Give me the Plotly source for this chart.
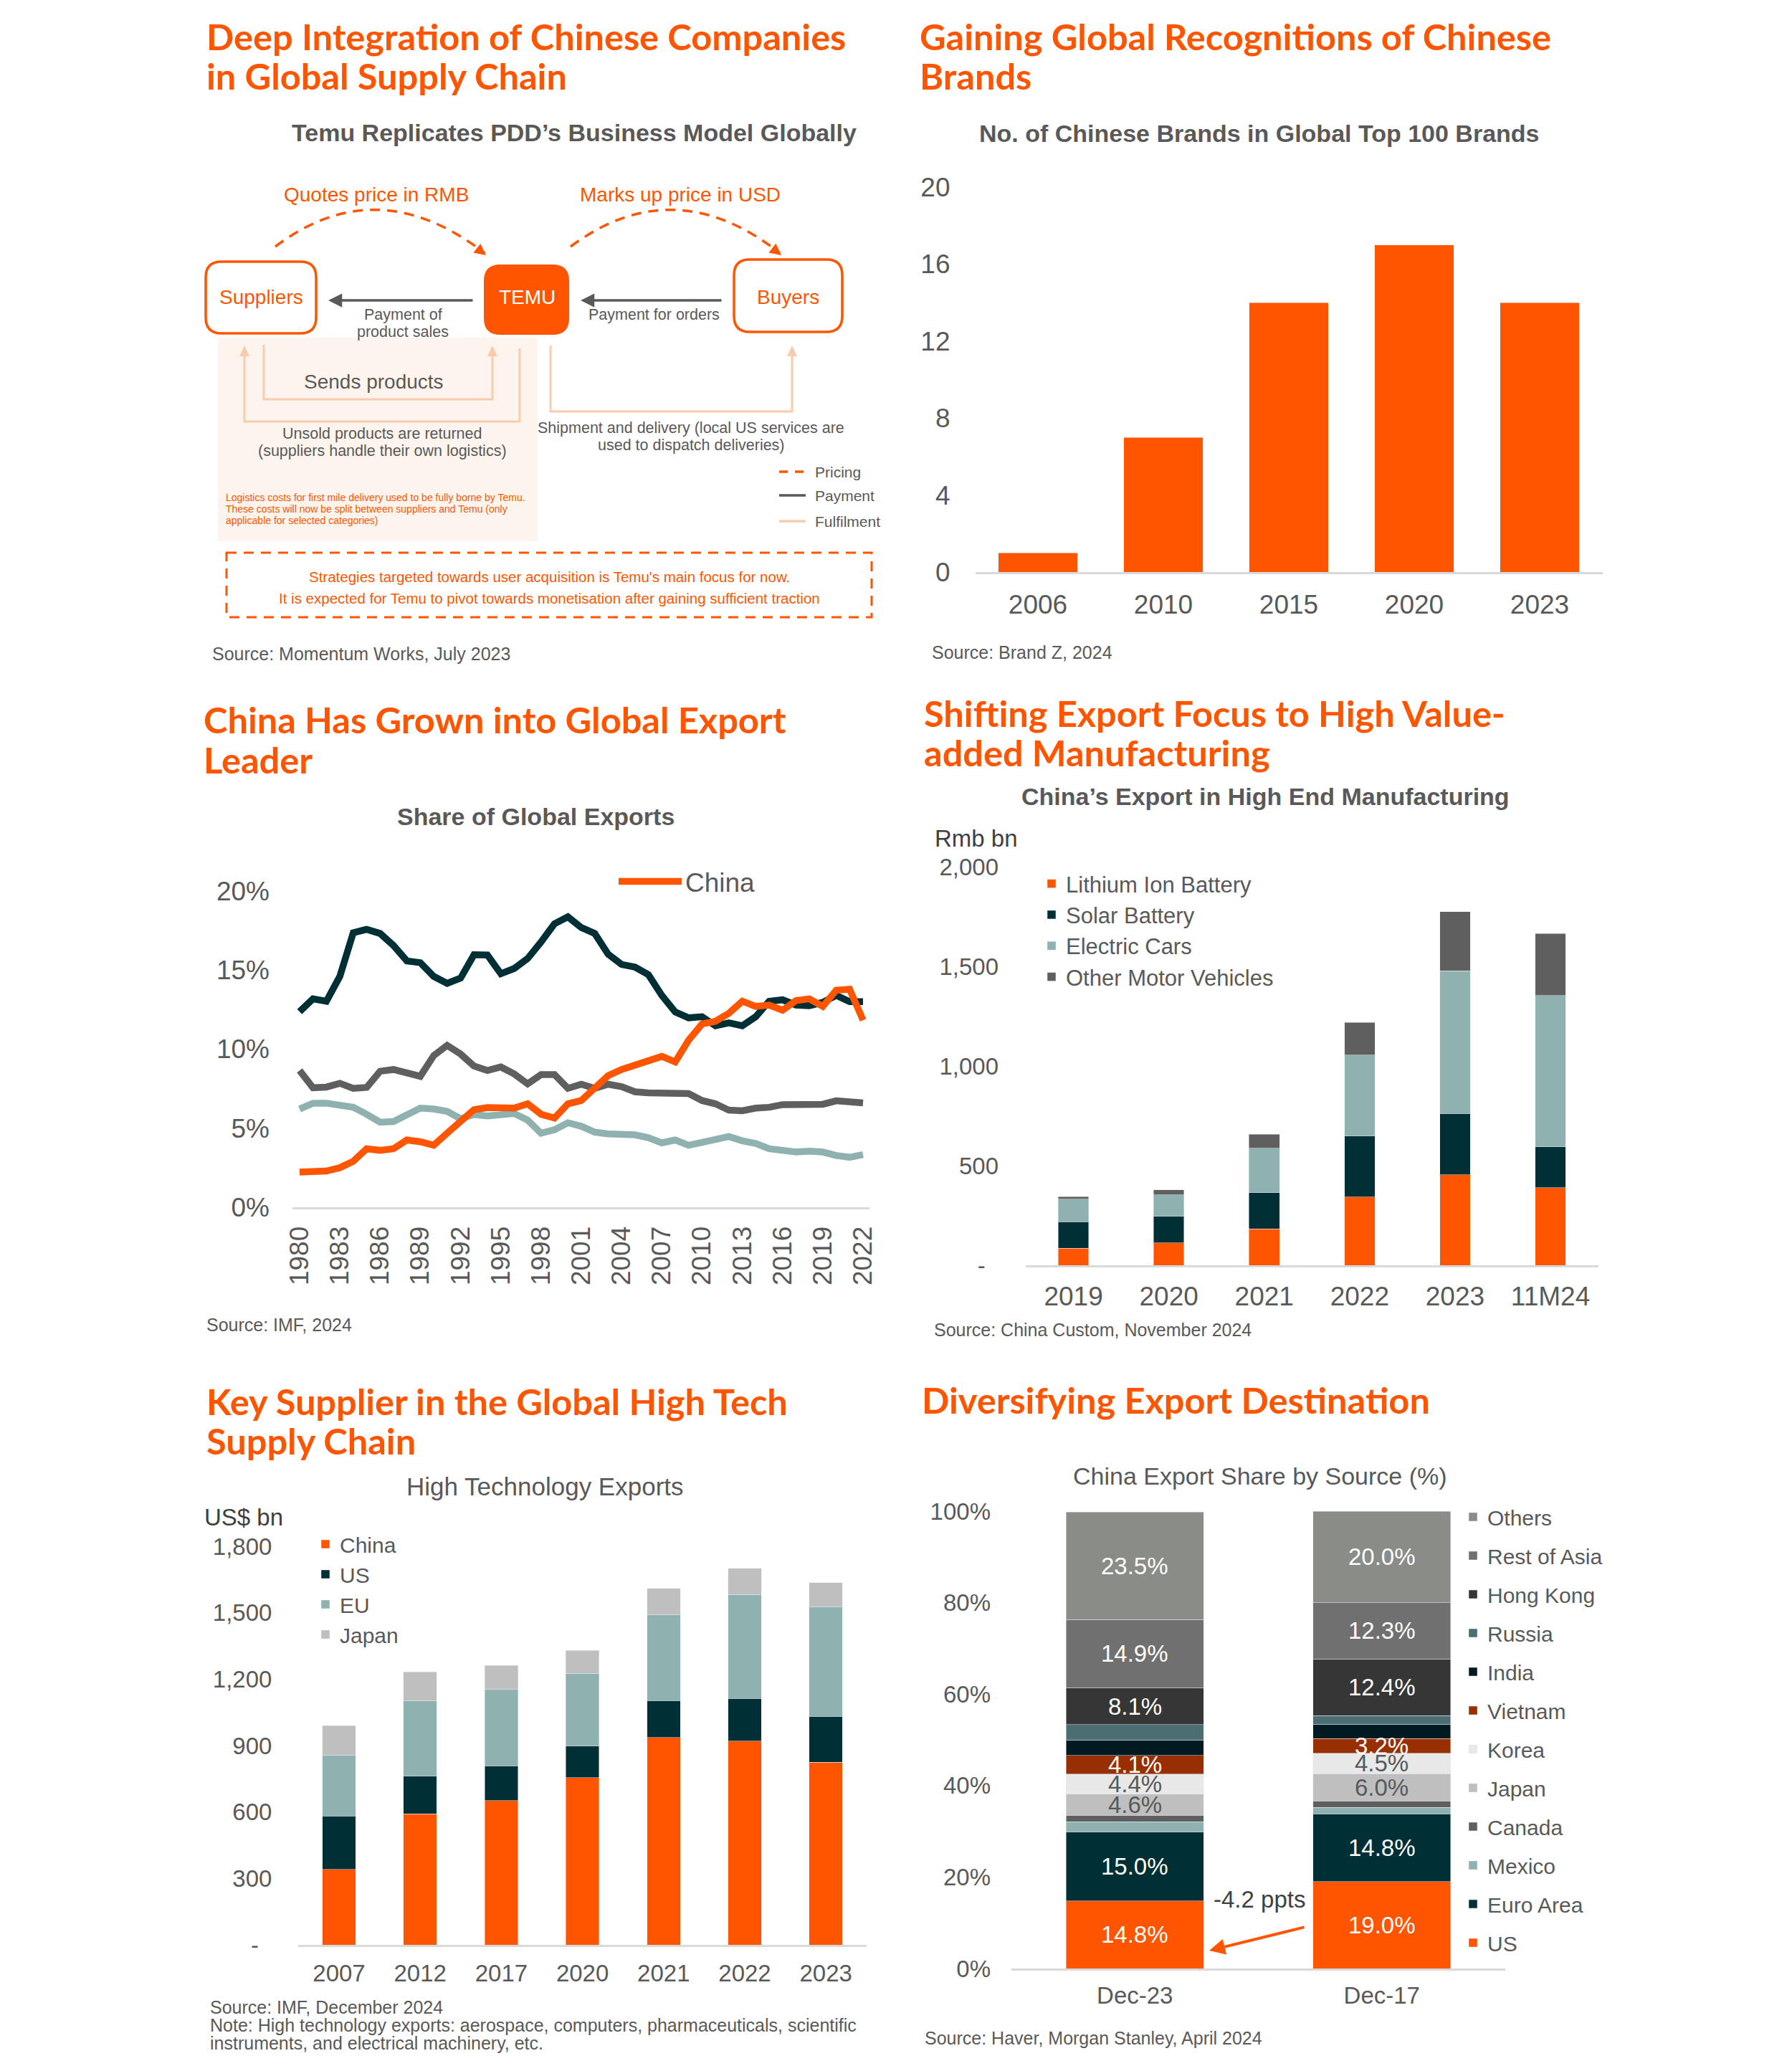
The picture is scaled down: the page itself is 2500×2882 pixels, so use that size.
import math
import plotly.graph_objects as go

W, H = 2500, 2882
ORANGE = "#FF5500"
DARK = "#002F36"
TEAL = "#8FB2B1"
DGRAY = "#5F5F5F"
LGRAY = "#BFBFBF"
TXT = "#595959"
AXL = "#D9D9D9"
PEACH = "#F8CBAD"
SANS = "Liberation Sans, Arial, Helvetica, sans-serif"
HEAD = "Lato, sans-serif"

# ---------------- data ----------------
# Panel 2: No. of Chinese brands in global top 100
brand_years = ["2006", "2010", "2015", "2020", "2023"]
brand_counts = [1, 7, 14, 17, 14]

# Panel 3: share of global exports (%)
export_years = [1980, 1981, 1982, 1983, 1984, 1985, 1986, 1987, 1988, 1989, 1990,
                1991, 1992, 1993, 1994, 1995, 1996, 1997, 1998, 1999, 2000, 2001,
                2002, 2003, 2004, 2005, 2006, 2007, 2008, 2009, 2010, 2011, 2012,
                2013, 2014, 2015, 2016, 2017, 2018, 2019, 2020, 2021, 2022]
china_share = [2.22, 2.27, 2.29, 2.5, 2.9, 3.7, 3.6, 3.7, 4.25, 4.14, 3.92,
               4.68, 5.45, 6.17, 6.3, 6.3, 6.27, 6.54, 5.88, 5.64, 6.54, 6.75,
               7.52, 8.32, 8.71, 9.0, 9.26, 9.54, 9.19, 10.57, 11.59, 11.76, 12.27,
               13.03, 12.7, 12.79, 12.46, 13.07, 13.18, 12.7, 13.73, 13.79, 11.83]
us_share = [12.37, 13.18, 13.03, 14.6, 17.36, 17.58, 17.32, 16.56, 15.58, 15.47, 14.6,
            14.16, 14.49, 15.97, 15.95, 14.77, 15.1, 15.73, 16.78, 17.93, 18.37, 17.69,
            17.32, 16.01, 15.36, 15.19, 14.71, 13.4, 12.35, 11.98, 12.05, 11.48, 11.66,
            11.48, 12.05, 13.03, 13.12, 12.79, 12.75, 12.96, 13.4, 13.0, 13.0]
germany_share = [8.65, 7.56, 7.6, 7.84, 7.52, 7.58, 8.6, 8.71, 8.5, 8.28, 9.59,
                 10.24, 9.69, 8.93, 8.65, 8.87, 8.43, 7.8, 8.39, 8.39, 7.52, 7.78,
                 7.52, 7.78, 7.63, 7.3, 7.23, 7.21, 7.12, 7.19, 6.75, 6.54, 6.14,
                 6.1, 6.27, 6.32, 6.49, 6.49, 6.51, 6.51, 6.73, 6.64, 6.6]
japan_share = [6.21, 6.58, 6.58, 6.43, 6.32, 5.88, 5.38, 5.42, 5.88, 6.27, 6.21,
               6.06, 5.6, 5.86, 5.77, 5.84, 5.93, 5.51, 4.68, 4.9, 5.34, 5.12,
               4.75, 4.64, 4.6, 4.58, 4.4, 4.07, 4.25, 3.92, 4.1, 4.29, 4.47,
               4.2, 4.03, 3.7, 3.55, 3.49, 3.55, 3.49, 3.27, 3.16, 3.33]
export_ticks = [1980, 1983, 1986, 1989, 1992, 1995, 1998, 2001, 2004, 2007, 2010,
                2013, 2016, 2019, 2022]
share_ticks = [0, 5, 10, 15, 20]

# Panel 4: China's export in high end manufacturing (Rmb bn)
he_years = ["2019", "2020", "2021", "2022", "2023", "11M24"]
lithium = [86, 112, 183, 342, 455, 390]
solar = [133, 134, 182, 307, 306, 204]
electric_cars = [112, 108, 223, 405, 716, 760]
other_vehicles = [14, 24, 70, 165, 297, 311]
he_names = ["Lithium Ion Battery", "Solar Battery", "Electric Cars", "Other Motor Vehicles"]
he_ticks = [0, 500, 1000, 1500, 2000]

# Panel 5: high technology exports (US$ bn)
ht_years = ["2007", "2012", "2017", "2020", "2021", "2022", "2023"]
ht_china = [341, 591, 651, 755, 936, 921, 824]
ht_us = [241, 171, 157, 142, 167, 192, 208]
ht_eu = [275, 341, 345, 329, 389, 470, 496]
ht_japan = [133, 130, 109, 104, 118, 117, 108]
ht_names = ["China", "US", "EU", "Japan"]
ht_ticks = [0, 300, 600, 900, 1200, 1500, 1800]

# Panel 6: China export share by destination (%)
dest_periods = ["Dec-23", "Dec-17"]
dest_names = ["US", "Euro Area", "Mexico", "Canada", "Japan", "Korea", "Vietnam",
              "India", "Russia", "Hong Kong", "Rest of Asia", "Others"]
share_dec23 = [14.8, 15.0, 2.3, 1.4, 4.6, 4.4, 4.1, 3.4, 3.3, 8.1, 14.9, 23.5]
share_dec17 = [19.0, 14.8, 1.4, 1.4, 6.0, 4.5, 3.2, 3.1, 1.9, 12.4, 12.3, 20.0]
dest_labelled = ["US", "Euro Area", "Japan", "Korea", "Vietnam", "Hong Kong", "Rest of Asia", "Others"]
dest_colors = ["#FF5500", "#002F36", "#8FB2B1", "#5F5F5F", "#BFBFBF", "#E8E8E8",
               "#982F00", "#001A21", "#4A6E71", "#363636", "#707070", "#8A8D87"]
dest_label_colors = {"Japan": TXT, "Korea": TXT}
pct_ticks = [0, 20, 40, 60, 80, 100]


def xd(a, b):
    return [a / W, b / W]


def yd(top, bot):
    return [1 - bot / H, 1 - top / H]


def thousands(v):
    return f"{v:,}"


ZERO = "-<span style='color:rgba(0,0,0,0)'>0</span>"

fig = go.Figure()

# Panel 2
fig.add_trace(go.Bar(x=brand_years, y=brand_counts, marker_color=ORANGE, width=0.63,
                     xaxis="x", yaxis="y", showlegend=False, name="Brands"))

# Panel 3
for name, vals, color in [("Japan", japan_share, TEAL), ("Germany", germany_share, DGRAY),
                          ("US", us_share, DARK), ("China", china_share, ORANGE)]:
    fig.add_trace(go.Scatter(x=export_years, y=vals, mode="lines", name=name,
                             line=dict(color=color, width=9.5), xaxis="x2", yaxis="y2",
                             showlegend=(name == "China"), legend="legend"))

# Panel 4
for name, vals, color in zip(he_names, [lithium, solar, electric_cars, other_vehicles],
                             [ORANGE, DARK, TEAL, DGRAY]):
    fig.add_trace(go.Bar(x=he_years, y=vals, name=name, marker_color=color, width=0.32,
                         xaxis="x3", yaxis="y3", legend="legend2"))

# Panel 5
for name, vals, color in zip(ht_names, [ht_china, ht_us, ht_eu, ht_japan],
                             [ORANGE, DARK, TEAL, LGRAY]):
    fig.add_trace(go.Bar(x=ht_years, y=vals, name=name, marker_color=color, width=0.41,
                         xaxis="x4", yaxis="y4", legend="legend3"))

# Panel 6
for i, name in enumerate(dest_names):
    fig.add_trace(go.Bar(x=dest_periods, y=[share_dec23[i], share_dec17[i]], name=name,
                         marker_color=dest_colors[i], width=0.556, xaxis="x5", yaxis="y5",
                         legend="legend4", legendgroup=name, legendrank=100 + len(dest_names) - i))

# helper pixel axis for the diagram & text
fig.add_trace(go.Scatter(x=[], y=[], xaxis="x6", yaxis="y6", showlegend=False, hoverinfo="skip"))

annotations = []
shapes = []


def txt(text, x, y, size, color=TXT, anchor="center", family=SANS, bold=False):
    if bold:
        text = "<b>" + text + "</b>"
    annotations.append(dict(text=text, x=x, y=y, xref="x6", yref="y6", showarrow=False,
                            xanchor=anchor, yanchor="middle",
                            font=dict(family=family, size=size, color=color)))


# Headings
headings = [
    (286, [50, 105], ["Deep Integration of Chinese Companies", "in Global Supply Chain"]),
    (1281, [50, 105], ["Gaining Global Recognitions of Chinese", "Brands"]),
    (282, [1003, 1059], ["China Has Grown into Global Export", "Leader"]),
    (1287, [994, 1049], ["Shifting Export Focus to High Value-", "added Manufacturing"]),
    (286, [1954, 2009], ["Key Supplier in the Global High Tech", "Supply Chain"]),
    (1284, [1952], ["Diversifying Export Destination"]),
]
for x, ys, lines in headings:
    for y, line in zip(ys, lines):
        txt(line, x, y, 50.5, ORANGE, "left", HEAD, True)

# chart titles
txt("Temu Replicates PDD’s Business Model Globally", 801, 185, 34, TXT, "center", SANS, True)
txt("No. of Chinese Brands in Global Top 100 Brands", 1757, 186, 34, TXT, "center", SANS, True)
txt("Share of Global Exports", 747, 1139, 34, TXT, "center", SANS, True)
txt("China’s Export in High End Manufacturing", 1765, 1111, 34, TXT, "center", SANS, True)
txt("High Technology Exports", 760, 2073, 35, TXT, "center")
txt("China Export Share by Source (%)", 1758, 2059, 34, TXT, "center")

# units
txt("Rmb bn", 1302, 1169, 33, "#404040", "left")
txt("US$ bn", 283, 2116, 33, "#404040", "left")

# sources
txt("Source: Momentum Works, July 2023", 294, 912, 25, TXT, "left")
txt("Source: Brand Z, 2024", 1298, 910, 25, TXT, "left")
txt("Source: IMF, 2024", 286, 1848, 25, TXT, "left")
txt("Source: China Custom, November 2024", 1301, 1855, 25, TXT, "left")
txt("Source: IMF, December 2024", 291, 2800, 25, TXT, "left")
txt("Note: High technology exports: aerospace, computers, pharmaceuticals, scientific", 291, 2825, 25, TXT, "left")
txt("instruments, and electrical machinery, etc.", 291, 2850, 25, TXT, "left")
txt("Source: Haver, Morgan Stanley, April 2024", 1288, 2843, 25, TXT, "left")

# ---------------- Panel 1 diagram ----------------
def rrect(x0, y0, x1, y1, r):
    return (f"M{x0+r},{y0} L{x1-r},{y0} Q{x1},{y0} {x1},{y0+r} L{x1},{y1-r} "
            f"Q{x1},{y1} {x1-r},{y1} L{x0+r},{y1} Q{x0},{y1} {x0},{y1-r} "
            f"L{x0},{y0+r} Q{x0},{y0} {x0+r},{y0} Z")


def tri(tx, ty, dx, dy, length=16, half=8):
    n = math.hypot(dx, dy)
    ux, uy = dx / n, dy / n
    bx, by = tx - ux * length, ty - uy * length
    px, py = -uy, ux
    return (f"M{tx},{ty} L{bx + px*half},{by + py*half} "
            f"L{bx - px*half},{by - py*half} Z")


def shp(path, color=None, width=3, fill=None, dash="solid", layer="above"):
    d = dict(type="path", path=path, xref="x6", yref="y6", layer=layer,
             line=dict(color=color if color else "rgba(0,0,0,0)", width=width if color else 0, dash=dash))
    if fill:
        d["fillcolor"] = fill
    shapes.append(d)


# peach background
shp("M304,471 L750,471 L750,755 L304,755 Z", None, 0, "#FDF4EE", layer="below")

# boxes
shp(rrect(287, 365, 441, 465, 22), ORANGE, 3.5, "white")
shp(rrect(676, 370, 793, 466, 22), ORANGE, 2, ORANGE)
shp(rrect(1024, 362, 1175, 463, 22), ORANGE, 3.5, "white")
txt("Suppliers", 364, 414, 28, ORANGE)
txt("TEMU", 735, 414, 28, "white")
txt("Buyers", 1099, 414, 28, ORANGE)

# pricing arcs
shp("M384,344 Q526,237 676,353", ORANGE, 3.5, None, "14px,10px")
shp(tri(678, 356, 150, 116), None, 0, ORANGE)
shp("M796,344 Q940,237 1088,353", ORANGE, 3.5, None, "14px,10px")
shp(tri(1090, 356, 148, 116), None, 0, ORANGE)
txt("Quotes price in RMB", 525, 271, 28, ORANGE)
txt("Marks up price in USD", 949, 271, 28, ORANGE)

# payment arrows
for (hx, tx_) in [(458, 661), (810, 1008)]:
    annotations.append(dict(x=hx, y=419, ax=tx_, ay=419, xref="x6", yref="y6", axref="x6",
                            ayref="y6", showarrow=True, arrowhead=2, arrowsize=1.1,
                            arrowwidth=3.5, arrowcolor=TXT, text=""))
txt("Payment of", 562, 439, 21.5)
txt("product sales", 562, 463, 21.5)
txt("Payment for orders", 912, 439, 21.5)

# fulfilment lines
shp("M368,481 L368,557 L687,557 L687,496", PEACH, 3)
shp(tri(687, 482, 0, -1, 15, 7), None, 0, PEACH)
shp("M725,486 L725,588 L341,588 L341,496", PEACH, 3)
shp(tri(341, 482, 0, -1, 15, 7), None, 0, PEACH)
shp("M768,482 L768,574 L1105,574 L1105,496", PEACH, 3)
shp(tri(1105, 482, 0, -1, 15, 7), None, 0, PEACH)
txt("Sends products", 521, 532, 28)
txt("Unsold products are returned", 533, 605, 21.5)
txt("(suppliers handle their own logistics)", 533, 629, 21.5)
txt("Shipment and delivery (local US services are", 964, 597, 21.5)
txt("used to dispatch deliveries)", 964, 621, 21.5)

# small orange note
note_lines = ["Logistics costs for first mile delivery used to be fully borne by Temu.",
              "These costs will now be split between suppliers and Temu (only",
              "applicable for selected categories)"]
for y, line in zip([694, 710, 726], note_lines):
    txt(line, 313, y, 14, ORANGE, "left")

# mini legend
shp("M1087,658 L1124,658", ORANGE, 3.5, None, "12px,10px")
shp("M1087,691 L1124,691", TXT, 3.5)
shp("M1087,727 L1124,727", PEACH, 3.5)
txt("Pricing", 1135, 658, 21, TXT, "left")
txt("Payment", 1135, 691, 21, TXT, "left")
txt("Fulfilment", 1135, 727, 21, TXT, "left")

# dashed strategy box
shp("M316,771 L1216,771 L1216,861 L316,861 Z", ORANGE, 3, None, "14px,10px")
txt("Strategies targeted towards user acquisition is Temu's main focus for now.", 766, 804, 20.5, ORANGE)
txt("It is expected for Temu to pivot towards monetisation after gaining sufficient traction", 766, 834, 20.5, ORANGE)

# ---------------- Panel 6 labels ----------------
for period, shares in zip(dest_periods, [share_dec23, share_dec17]):
    cum = 0.0
    for name, v in zip(dest_names, shares):
        if name in dest_labelled:
            annotations.append(dict(x=period, y=cum + v / 2, xref="x5", yref="y5",
                                    text=f"{v:.1f}%", showarrow=False,
                                    font=dict(family=SANS, size=33,
                                              color=dest_label_colors.get(name, "white"))))
        cum += v

us_change = share_dec23[0] - share_dec17[0]
txt(f"{us_change:.1f} ppts", 1757, 2649, 33, "#404040")
annotations.append(dict(x=1687, y=2721, ax=1821, ay=2688, xref="x6", yref="y6", axref="x6",
                        ayref="y6", showarrow=True, arrowhead=2, arrowsize=1.1,
                        arrowwidth=4, arrowcolor=ORANGE, text=""))

# ---------------- axes ----------------
def xax(dom, rng, size, standoff, **kw):
    d = dict(domain=dom, range=rng, showline=True, linecolor=AXL, linewidth=3,
             ticks="", showgrid=False, zeroline=False, fixedrange=True, automargin=False,
             tickfont=dict(family=SANS, size=size, color=TXT), ticklabelstandoff=standoff)
    d.update(kw)
    return d


def yax(dom, rng, size, standoff, **kw):
    d = dict(domain=dom, range=rng, showline=False, ticks="", showgrid=False,
             zeroline=False, fixedrange=True, automargin=False,
             tickfont=dict(family=SANS, size=size, color=TXT), ticklabelstandoff=standoff)
    d.update(kw)
    return d


layout = dict(
    width=W, height=H, autosize=False,
    margin=dict(l=0, r=0, t=0, b=0, pad=0, autoexpand=False),
    paper_bgcolor="white", plot_bgcolor="rgba(0,0,0,0)",
    font=dict(family=SANS, color=TXT),
    barmode="stack",
    xaxis=xax(xd(1360.5, 2235.5), [-0.5, 4.5], 37, 11, anchor="y", type="category"),
    yaxis=yax(yd(261, 798), [0, 20], 37, 34, anchor="x", tickvals=[0, 4, 8, 12, 16, 20]),
    xaxis2=xax(xd(408, 1213), [1979.47, 2022.48], 37, 9, anchor="y2",
               tickvals=export_ticks, tickangle=-90),
    yaxis2=yax(yd(1243, 1684), [0, 20], 37, 31, anchor="x2", tickvals=share_ticks,
               ticktext=[f"{v}%" for v in share_ticks]),
    xaxis3=xax(xd(1431, 2229.6), [-0.5, 5.5], 37, 9, anchor="y3", type="category"),
    yaxis3=yax(yd(1209, 1765), [0, 2000], 33, 37, anchor="x3", tickvals=he_ticks,
               ticktext=[ZERO if v == 0 else thousands(v) for v in he_ticks]),
    xaxis4=xax(xd(416.4, 1208.8), [-0.5, 6.5], 33, 8, anchor="y4", type="category"),
    yaxis4=yax(yd(2157, 2713), [0, 1800], 33, 36, anchor="x4", tickvals=ht_ticks,
               ticktext=[ZERO if v == 0 else thousands(v) for v in ht_ticks]),
    xaxis5=xax(xd(1411, 2100), [-0.5, 1.5], 33, 6, anchor="y5", type="category"),
    yaxis5=yax(yd(2108, 2746), [0, 100], 33, 28, anchor="x5", tickvals=pct_ticks,
               ticktext=[f"{v}%" for v in pct_ticks]),
    xaxis6=dict(domain=[0, 1], range=[0, W], visible=False, fixedrange=True, anchor="y6"),
    yaxis6=dict(domain=[0, 1], range=[H, 0], visible=False, fixedrange=True, anchor="x6"),
    legend=dict(x=858 / W, y=1 - 1199 / H, xanchor="left", yanchor="top", itemwidth=88,
                font=dict(family=SANS, size=37, color=TXT), bgcolor="rgba(0,0,0,0)"),
    legend2=dict(x=1447 / W, y=1 - 1206 / H, xanchor="left", yanchor="top",
                 traceorder="normal", font=dict(family=SANS, size=31, color=TXT),
                 bgcolor="rgba(0,0,0,0)"),
    legend3=dict(x=434 / W, y=1 - 2128 / H, xanchor="left", yanchor="top",
                 traceorder="normal", font=dict(family=SANS, size=30, color=TXT),
                 bgcolor="rgba(0,0,0,0)"),
    legend4=dict(x=2035 / W, y=1 - 2090 / H, xanchor="left", yanchor="top",
                 traceorder="grouped", tracegroupgap=12,
                 font=dict(family=SANS, size=30, color=TXT), bgcolor="rgba(0,0,0,0)"),
    annotations=annotations,
    shapes=shapes,
    showlegend=True,
)
fig.update_layout(**layout)

post = ("document.documentElement.style.margin='0';document.body.style.margin='0';"
        "document.body.style.padding='0';document.documentElement.style.overflow='hidden';"
        "document.body.style.overflow='hidden';"
        "var gd=document.getElementById('{plot_id}');gd.style.position='absolute';"
        "gd.style.left='0px';gd.style.top='0px';")
fig.write_html("out.html", config={"displayModeBar": False}, post_script=post)
